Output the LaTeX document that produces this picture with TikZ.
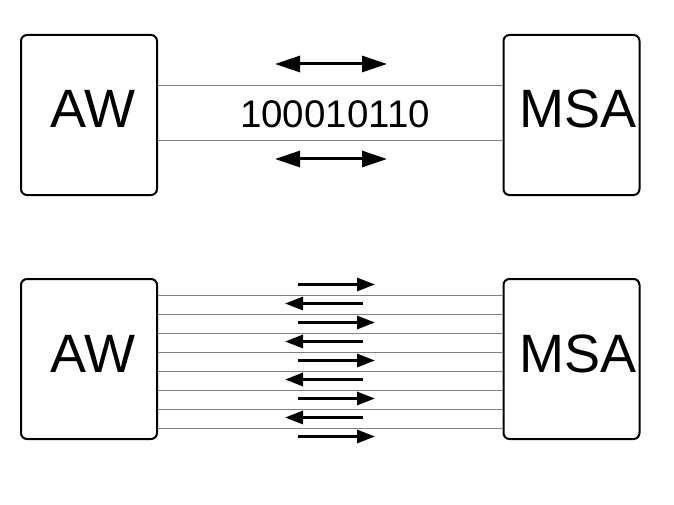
\documentclass[tikz,border=0pt]{standalone}
\usepackage{fontspec}
\setmainfont{Liberation Sans}
\usetikzlibrary{arrows.meta}
\begin{document}
\begin{tikzpicture}[x=1pt,y=-1pt,
  box/.style={draw, line width=2pt, rounded corners=6pt, minimum width=136pt, minimum height=160pt, inner sep=0pt},
  lbl/.style={anchor=base west, inner sep=0pt, font=\fontsize{54}{60}\selectfont},
  bits/.style={anchor=base, inner sep=0pt, font=\fontsize{38.5}{44}\selectfont},
  wire/.style={draw={rgb,255:red,128;green,128;blue,128}, line width=1pt},
  bigarrow/.style={line width=3pt, {Triangle[length=25pt,width=16pt]}-{Triangle[length=25pt,width=16pt]}},
  smallarrow/.style={line width=3pt, -{Triangle[length=18pt,width=13pt]}}
]
\useasboundingbox (0,0) rectangle (674,505);

% top diagram
\node[box] (awT) at (89,115) {};
\node[box] (msaT) at (571.5,115) {};
\node[lbl] (awTt) at (50,128) {AW};
\node[lbl] (msaTt) at (519,128) {MSA};
\node[bits] (bitsT) at (335,128) {100010110};
\coordinate (t1) at (0,86);
\coordinate (t2) at (0,141);
\draw[wire] (awT.east |- t1) -- (msaT.west |- t1);
\draw[wire] (awT.east |- t2) -- (msaT.west |- t2);
\draw[bigarrow] (275,64) -- (387,64);
\draw[bigarrow] (275,159) -- (387,159);

% bottom diagram
\node[box] (awB) at (89,359) {};
\node[box] (msaB) at (571.5,359) {};
\node[lbl] (awBt) at (50,372) {AW};
\node[lbl] (msaBt) at (519,372) {MSA};
\foreach \i in {0,...,7} {
  \coordinate (b\i) at (0,295+19*\i);
  \draw[wire] (awB.east |- b\i) -- (msaB.west |- b\i);
}
\foreach \j in {0,2,4,6,8} {
  \draw[smallarrow] (298,284.5+19*\j) -- (375,284.5+19*\j);
}
\foreach \j in {1,3,5,7} {
  \draw[smallarrow] (363,284.5+19*\j) -- (285,284.5+19*\j);
}
\end{tikzpicture}
\end{document}
